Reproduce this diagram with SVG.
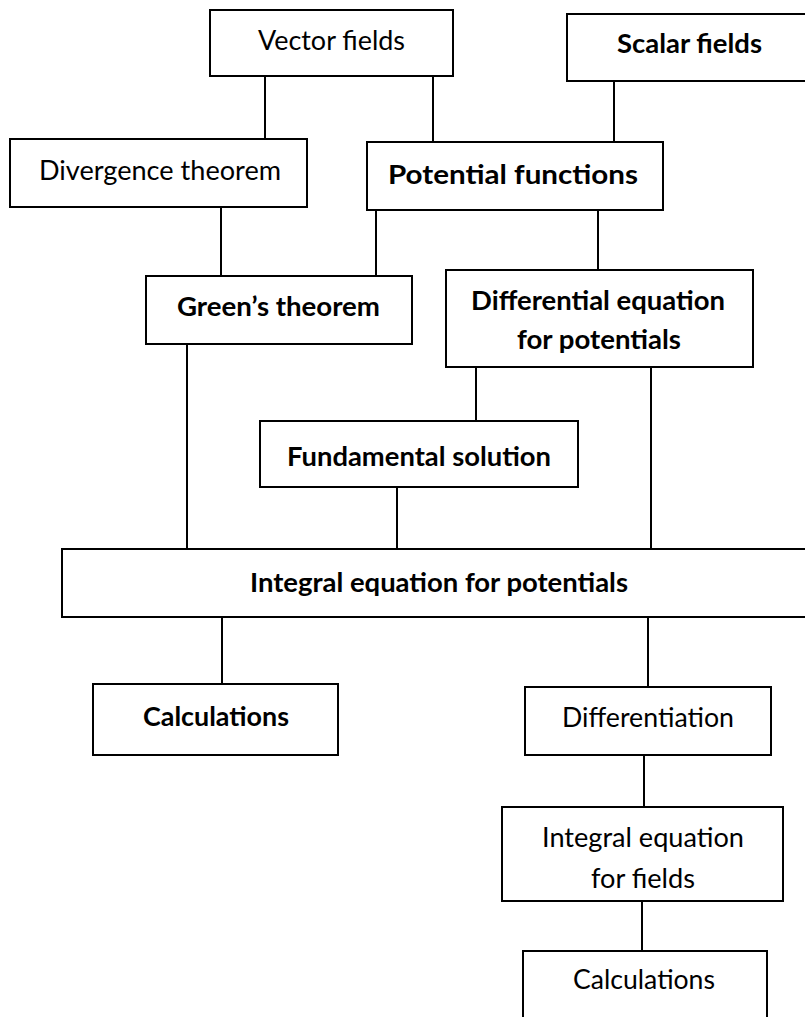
<svg xmlns="http://www.w3.org/2000/svg" width="805" height="1017" viewBox="0 0 805 1017">
<style>
.box{fill:#fff;stroke:#000;stroke-width:2}
.ln{stroke:#000;stroke-width:2;fill:none}
text{font-family:Lato,"Open Sans","Liberation Sans",sans-serif;font-size:27px;fill:#000;text-anchor:middle}
.b{font-weight:700}
</style>
<rect width="805" height="1017" fill="#fff"/>
<g id="connectors">
<line class="ln" x1="265" y1="76" x2="265" y2="139"/>
<line class="ln" x1="433" y1="76" x2="433" y2="142"/>
<line class="ln" x1="614" y1="81" x2="614" y2="142"/>
<line class="ln" x1="221" y1="207" x2="221" y2="276"/>
<line class="ln" x1="376" y1="210" x2="376" y2="276"/>
<line class="ln" x1="598" y1="210" x2="598" y2="270"/>
<line class="ln" x1="187" y1="344" x2="187" y2="549"/>
<line class="ln" x1="476" y1="367" x2="476" y2="421"/>
<line class="ln" x1="651" y1="367" x2="651" y2="549"/>
<line class="ln" x1="397" y1="487" x2="397" y2="549"/>
<line class="ln" x1="222" y1="617" x2="222" y2="684"/>
<line class="ln" x1="648" y1="617" x2="648" y2="687"/>
<line class="ln" x1="644" y1="755" x2="644" y2="807"/>
<line class="ln" x1="642" y1="901" x2="642" y2="951"/>
</g>
<g id="vector-fields">
<rect class="box" x="210" y="10" width="243" height="66"/>
<text x="331.5" y="50" textLength="147" lengthAdjust="spacingAndGlyphs">Vector fields</text>
</g>
<g id="scalar-fields">
<rect class="box" x="567" y="14" width="245" height="67"/>
<text class="b" x="689.5" y="53" textLength="145" lengthAdjust="spacingAndGlyphs">Scalar fields</text>
</g>
<g id="divergence-theorem">
<rect class="box" x="10" y="139" width="297" height="68"/>
<text x="160" y="180" textLength="242" lengthAdjust="spacingAndGlyphs">Divergence theorem</text>
</g>
<g id="potential-functions">
<rect class="box" x="367" y="142" width="296" height="68"/>
<text class="b" x="513" y="184" font-size="28" textLength="250" lengthAdjust="spacingAndGlyphs">Potential functions</text>
</g>
<g id="greens-theorem">
<rect class="box" x="146" y="276" width="266" height="68"/>
<text class="b" x="278.5" y="316" textLength="203" lengthAdjust="spacingAndGlyphs">Green’s theorem</text>
</g>
<g id="differential-equation">
<rect class="box" x="446" y="270" width="307" height="97"/>
<text class="b" x="598" y="310" textLength="254" lengthAdjust="spacingAndGlyphs">Differential equation</text>
<text class="b" x="599" y="349" textLength="164" lengthAdjust="spacingAndGlyphs">for potentials</text>
</g>
<g id="fundamental-solution">
<rect class="box" x="260" y="421" width="318" height="66"/>
<text class="b" x="419" y="466" textLength="264" lengthAdjust="spacingAndGlyphs">Fundamental solution</text>
</g>
<g id="integral-equation-potentials">
<rect class="box" x="62" y="549" width="750" height="68"/>
<text class="b" x="439" y="592" textLength="378" lengthAdjust="spacingAndGlyphs">Integral equation for potentials</text>
</g>
<g id="calculations-left">
<rect class="box" x="93" y="684" width="245" height="71"/>
<text class="b" x="216" y="726" textLength="146" lengthAdjust="spacingAndGlyphs">Calculations</text>
</g>
<g id="differentiation">
<rect class="box" x="525" y="687" width="246" height="68"/>
<text x="648" y="727" textLength="172" lengthAdjust="spacingAndGlyphs">Differentiation</text>
</g>
<g id="integral-equation-fields">
<rect class="box" x="502" y="807" width="281" height="94"/>
<text x="643" y="847" textLength="202" lengthAdjust="spacingAndGlyphs">Integral equation</text>
<text x="643" y="888" textLength="104" lengthAdjust="spacingAndGlyphs">for fields</text>
</g>
<g id="calculations-right">
<rect class="box" x="523" y="951" width="244" height="80"/>
<text x="644" y="989" textLength="142" lengthAdjust="spacingAndGlyphs">Calculations</text>
</g>
</svg>
